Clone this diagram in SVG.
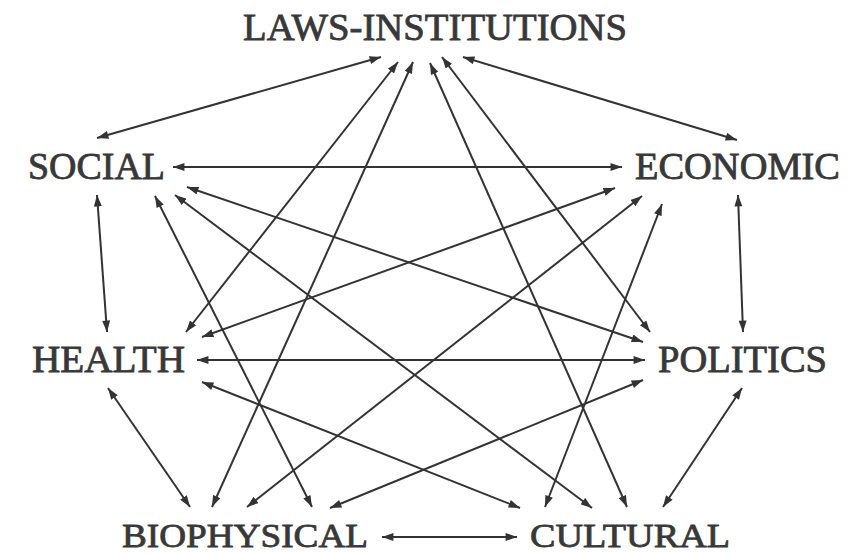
<svg xmlns="http://www.w3.org/2000/svg" width="856" height="554" viewBox="0 0 856 554">
<style>
.lbl{font-family:"Liberation Serif","Times New Roman",serif;font-weight:normal;font-size:37px;fill:#383838;stroke:#383838;stroke-width:0.8}
.low{font-size:34px}
.edge{stroke:#333;stroke-width:2;fill:none;marker-start:url(#ah);marker-end:url(#ah)}
</style>
<defs>
<marker id="ah" viewBox="0 0 10 7" refX="10" refY="3.5" markerWidth="12" markerHeight="8" markerUnits="userSpaceOnUse" orient="auto-start-reverse">
<path d="M0,0 L10,3.5 L0,7 z" fill="#333"/>
</marker>
</defs>
<rect width="856" height="554" fill="#fff"/>
<g id="connectors">
<line class="edge" x1="381" y1="57" x2="97" y2="138"/>
<line class="edge" x1="463" y1="57" x2="737" y2="140"/>
<line class="edge" x1="398" y1="62" x2="186" y2="332"/>
<line class="edge" x1="413" y1="62" x2="212" y2="507"/>
<line class="edge" x1="430" y1="63" x2="627" y2="507"/>
<line class="edge" x1="442" y1="57" x2="650" y2="332"/>
<line class="edge" x1="173" y1="167" x2="622" y2="167"/>
<line class="edge" x1="97" y1="195" x2="107" y2="332"/>
<line class="edge" x1="187" y1="187" x2="643" y2="342"/>
<line class="edge" x1="175" y1="195" x2="592" y2="508"/>
<line class="edge" x1="155" y1="196" x2="312" y2="507"/>
<line class="edge" x1="615" y1="188" x2="202" y2="337"/>
<line class="edge" x1="642" y1="196" x2="247" y2="507"/>
<line class="edge" x1="662" y1="204" x2="545" y2="507"/>
<line class="edge" x1="738" y1="195" x2="743" y2="332"/>
<line class="edge" x1="197" y1="360" x2="645" y2="360"/>
<line class="edge" x1="202" y1="382" x2="520" y2="508"/>
<line class="edge" x1="108" y1="388" x2="190" y2="507"/>
<line class="edge" x1="643" y1="380" x2="330" y2="508"/>
<line class="edge" x1="742" y1="388" x2="663" y2="507"/>
<line class="edge" x1="382" y1="537" x2="517" y2="537"/>
</g>
<g id="laws"><text class="lbl" x="243" y="40" textLength="384" lengthAdjust="spacingAndGlyphs">LAWS-INSTITUTIONS</text></g>
<g id="social"><text class="lbl" x="28" y="179" textLength="137" lengthAdjust="spacingAndGlyphs">SOCIAL</text></g>
<g id="economic"><text class="lbl" x="635" y="179" textLength="205" lengthAdjust="spacingAndGlyphs">ECONOMIC</text></g>
<g id="health"><text class="lbl" x="32" y="372" textLength="153" lengthAdjust="spacingAndGlyphs">HEALTH</text></g>
<g id="politics"><text class="lbl" x="658" y="372" textLength="169" lengthAdjust="spacingAndGlyphs">POLITICS</text></g>
<g id="biophysical"><text class="lbl low" x="122" y="547" textLength="246" lengthAdjust="spacingAndGlyphs">BIOPHYSICAL</text></g>
<g id="cultural"><text class="lbl low" x="530" y="547" textLength="200" lengthAdjust="spacingAndGlyphs">CULTURAL</text></g>
</svg>
